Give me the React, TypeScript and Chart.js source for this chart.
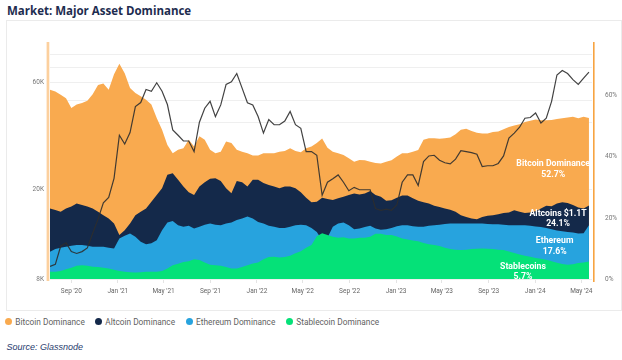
import React, { useEffect, useRef } from 'react';
import { Chart, registerables } from 'chart.js';

Chart.register(...registerables);

// ---------- data ----------
const START_DATE = '2020-07-07';
const END_DATE = '2024-05-29';
const STEP_DAYS = 14;

// BTC price, thousands of USD (left, log axis)
const btcPrice = [
  9.1, 9.3, 11.2, 11.6, 10.6, 10.4, 10.6, 11.0, 12.8, 14.8,
  17.5, 18.5, 22.5, 35.0, 32.0, 36.0, 47.0, 49.0, 56.0, 55.0,
  60.0, 55.0, 48.0, 37.0, 35.0, 33.0, 33.0, 29.6, 40.0, 46.2,
  49.6, 42.4, 47.8, 59.0, 60.6, 66.0, 56.8, 48.9, 47.8, 42.4,
  35.8, 41.1, 39.0, 39.0, 40.5, 44.7, 39.0, 37.6, 29.6, 29.6,
  28.5, 18.9, 21.6, 22.4, 23.3, 21.6, 19.8, 20.5, 20.0, 20.0,
  20.0, 16.5, 16.2, 16.4, 16.2, 17.1, 21.6, 23.3, 23.3, 20.9,
  26.7, 28.3, 28.5, 27.1, 26.4, 26.1, 27.4, 29.9, 29.6, 29.3,
  28.8, 25.4, 25.6, 25.6, 26.2, 28.3, 34.0, 35.8, 38.0, 41.7,
  42.0, 44.0, 39.7, 41.7, 49.6, 65.0, 68.0, 66.0, 62.0, 59.0,
  63.0, 67.0,
];

const bitcoinDominance = [
  62.0, 61.4, 60.3, 59.2, 56.0, 57.1, 57.6, 58.4, 60.5, 63.5,
  64.0, 62.0, 67.0, 70.5, 67.4, 62.5, 60.9, 59.8, 58.7, 57.1,
  52.7, 48.9, 43.9, 41.2, 42.3, 42.8, 45.6, 43.4, 46.7, 45.6,
  42.3, 41.2, 41.7, 45.0, 44.5, 42.3, 41.7, 41.2, 40.4, 40.4,
  41.2, 41.2, 41.2, 41.7, 41.9, 42.8, 41.9, 41.5, 42.8, 43.4,
  44.5, 46.0, 43.0, 41.7, 41.2, 40.6, 39.5, 38.4, 39.0, 38.9,
  38.4, 38.0, 37.8, 38.4, 38.9, 40.1, 41.2, 41.2, 41.7, 42.2,
  45.6, 46.1, 46.1, 45.9, 46.1, 46.3, 47.4, 48.9, 49.2, 48.5,
  47.9, 47.6, 47.6, 48.1, 48.3, 49.0, 49.8, 50.3, 50.7, 51.4,
  51.8, 52.2, 52.0, 52.0, 52.1, 52.4, 52.6, 52.9, 53.1, 52.6,
  53.1, 52.7,
];

const altcoinDominance = [
  23.1, 22.6, 22.0, 23.1, 23.7, 24.7, 24.2, 23.7, 23.1, 22.0,
  20.9, 19.8, 18.2, 14.4, 16.0, 18.2, 20.9, 22.0, 23.1, 25.3,
  27.5, 29.7, 34.1, 34.6, 32.5, 30.3, 28.4, 27.5, 30.3, 31.7,
  32.8, 33.0, 32.1, 29.7, 28.1, 32.1, 31.7, 30.3, 32.5, 32.5,
  31.4, 30.8, 30.3, 29.7, 30.3, 30.3, 29.7, 28.4, 26.6, 25.1,
  25.3, 26.6, 26.2, 25.9, 26.4, 26.9, 27.5, 28.0, 27.7, 28.0,
  28.8, 27.5, 26.9, 25.6, 25.8, 26.6, 27.3, 27.3, 26.4, 25.6,
  25.1, 24.7, 24.0, 23.6, 23.1, 22.7, 22.0, 20.9, 20.3, 19.8,
  19.6, 20.3, 20.7, 20.9, 21.2, 21.6, 21.8, 22.5, 22.0, 21.6,
  21.8, 22.2, 23.1, 24.0, 23.8, 24.7, 25.1, 24.9, 24.2, 23.4,
  23.1, 24.1,
];

const ethereumDominance = [
  8.9, 9.8, 10.2, 10.6, 10.9, 11.1, 11.1, 10.9, 10.6, 10.6,
  10.6, 10.2, 10.0, 13.3, 14.2, 14.9, 13.8, 12.2, 11.4, 11.7,
  12.7, 16.0, 18.5, 19.0, 17.6, 17.1, 17.4, 16.5, 17.1, 17.8,
  18.2, 17.8, 17.6, 18.2, 18.5, 19.3, 19.8, 20.5, 19.8, 18.7,
  18.2, 17.4, 17.1, 16.7, 16.7, 17.1, 17.6, 17.8, 17.6, 16.7,
  15.4, 12.7, 13.5, 17.1, 18.2, 18.5, 17.6, 16.3, 16.5, 17.0,
  17.4, 16.5, 16.1, 16.3, 16.7, 17.3, 17.6, 17.6, 17.3, 17.1,
  17.1, 17.4, 17.6, 17.8, 18.0, 18.2, 18.2, 18.2, 18.2, 18.2,
  18.2, 18.2, 18.0, 17.9, 17.9, 17.8, 17.6, 17.6, 17.6, 17.6,
  17.4, 17.2, 17.0, 16.7, 16.3, 15.9, 15.6, 15.4, 15.2, 14.9,
  15.0, 17.6,
];

const stablecoinDominance = [
  2.4, 2.4, 2.6, 3.2, 3.7, 4.3, 4.5, 4.3, 4.0, 3.9,
  3.7, 3.4, 3.0, 2.6, 2.4, 2.2, 2.1, 2.2, 2.4, 2.4,
  2.4, 2.6, 3.4, 4.5, 5.0, 5.6, 5.8, 6.5, 6.2, 5.4,
  4.7, 4.5, 4.3, 3.9, 3.4, 3.4, 3.9, 4.5, 5.1, 5.4,
  6.5, 7.2, 7.3, 7.0, 7.2, 7.6, 8.4, 9.1, 10.2, 11.1,
  14.0, 15.0, 14.4, 13.8, 13.5, 13.7, 13.3, 13.3, 13.5, 13.5,
  13.8, 14.8, 14.8, 14.4, 14.4, 13.9, 13.3, 12.9, 12.6, 12.4,
  11.8, 11.4, 11.1, 10.8, 10.2, 9.8, 9.6, 9.5, 9.6, 9.8,
  9.9, 10.0, 9.9, 9.8, 9.6, 9.5, 9.0, 8.5, 8.0, 7.6,
  7.3, 6.9, 6.6, 6.3, 5.8, 5.3, 4.9, 4.7, 4.8, 5.2,
  5.4, 5.7,
];

const xTickDates = [
  '2020-09-01', '2021-01-01', '2021-05-01', '2021-09-01', '2022-01-01', '2022-05-01',
  '2022-09-01', '2023-01-01', '2023-05-01', '2023-09-01', '2024-01-01', '2024-05-01',
];
const xTickLabels = [
  "Sep '20", "Jan '21", "May '21", "Sep '21", "Jan '22", "May '22",
  "Sep '22", "Jan '23", "May '23", "Sep '23", "Jan '24", "May '24",
];
const priceTickValues = [8, 20, 60];
const priceTickLabels = ['8K', '20K', '60K'];
const priceGridValues = [40, 50, 70, 80];
const dominanceTickValues = [0, 20, 40, 60];
const PRICE_MIN = 8;
const PRICE_MAX = 91.2;
const DOM_MIN = 0;
const DOM_MAX = 77.6;

const seriesNames = ['Bitcoin Dominance', 'Altcoin Dominance', 'Ethereum Dominance', 'Stablecoin Dominance'];
const annotationTitles = ['Bitcoin Dominance', 'Altcoins $1.1T', 'Ethereum', 'Stablecoins'];

// ---------- styles / layout ----------
const ORANGE = '#f9aa4f';
const NAVY = '#14294a';
const BLUE = '#27a3de';
const GREEN = '#05e178';
const seriesColors = [ORANGE, NAVY, BLUE, GREEN];
// annotation block centres in data units (day, dominance %)
const annotationAnchors = [
  { day: 1320, pct: 35.9 },
  { day: 1333, pct: 19.8 },
  { day: 1324, pct: 10.7 },
  { day: 1241, pct: 2.4 },
];
const legendX = [4.8, 94.8, 185.5, 285.8];

const dayOf = (d: string) => Math.round((Date.parse(d) - Date.parse(START_DATE)) / 86400000);
const END_DAY = dayOf(END_DATE);
const xTickDays = xTickDates.map(dayOf);
const toPoints = (arr: number[]) => arr.map((v, i) => ({ x: i * STEP_DAYS, y: v }));
const lastOf = (arr: number[]) => arr[arr.length - 1];

const overlayPlugin = {
  id: 'overlay',
  afterDatasetsDraw(chart: any) {
    const { ctx, chartArea } = chart;
    const { left, right, top, bottom } = chartArea;
    ctx.save();
    ctx.fillStyle = 'rgba(249,170,79,0.55)';
    ctx.fillRect(left - 3.4, top, 2.7, bottom - top + 2);
    ctx.fillStyle = '#f7a442';
    ctx.fillRect(right + 1, top, 1.6, bottom - top + 3);

    const xs = chart.scales.x;
    const ys = chart.scales.y1;
    const values = [bitcoinDominance, altcoinDominance, ethereumDominance, stablecoinDominance].map(
      (a) => lastOf(a).toFixed(1) + '%'
    );
    ctx.fillStyle = '#ffffff';
    ctx.font = 'bold 8.7px Roboto';
    ctx.textAlign = 'center';
    ctx.textBaseline = 'middle';
    annotationAnchors.forEach((a, i) => {
      const x = xs.getPixelForValue(a.day);
      const y = ys.getPixelForValue(a.pct);
      ctx.fillText(annotationTitles[i], x, y - 5.2);
      ctx.fillText(values[i], x, y + 5.2);
    });
    ctx.restore();
  },
};

export default function App() {
  const canvasRef = useRef<HTMLCanvasElement | null>(null);

  useEffect(() => {
    if (!canvasRef.current) return;
    const areaDs = (label: string, data: number[], color: string) => ({
      label,
      data: toPoints(data),
      yAxisID: 'y1',
      backgroundColor: color,
      borderColor: color,
      borderWidth: 0,
      pointRadius: 0,
      fill: 'origin',
      tension: 0,
    });
    const chart = new Chart(canvasRef.current, {
      type: 'line',
      data: {
        datasets: [
          {
            label: 'BTC Price',
            data: toPoints(btcPrice),
            yAxisID: 'y',
            borderColor: 'rgba(45,45,45,0.9)',
            borderWidth: 1.2,
            pointRadius: 0,
            fill: false,
            tension: 0,
          } as any,
          areaDs(seriesNames[3], stablecoinDominance, GREEN),
          areaDs(seriesNames[2], ethereumDominance, BLUE),
          areaDs(seriesNames[1], altcoinDominance, NAVY),
          areaDs(seriesNames[0], bitcoinDominance, ORANGE),
        ],
      },
      options: {
        animation: false,
        responsive: false,
        maintainAspectRatio: false,
        layout: { padding: { top: 21, left: 0, right: 0, bottom: 0 } },
        plugins: { legend: { display: false }, tooltip: { enabled: false } },
        scales: {
          x: {
            type: 'linear',
            min: 0,
            max: END_DAY,
            afterBuildTicks: (s: any) => {
              s.ticks = xTickDays.map((v) => ({ value: v }));
            },
            afterFit: (s: any) => {
              s.height = 30;
            },
            ticks: {
              autoSkip: false,
              maxRotation: 0,
              padding: 4,
              color: '#666',
              font: { size: 6.5, family: 'Roboto' },
              callback: (v: any) => {
                const k = xTickDays.indexOf(Number(v));
                return k >= 0 ? xTickLabels[k] : '';
              },
            },
            grid: { drawOnChartArea: false, drawTicks: true, tickLength: 4, color: '#e4e4e4' },
            border: { display: false },
          },
          y: {
            type: 'logarithmic',
            position: 'left',
            min: PRICE_MIN,
            max: PRICE_MAX,
            afterBuildTicks: (s: any) => {
              s.ticks = [...priceTickValues, ...priceGridValues].sort((a, b) => a - b).map((v) => ({ value: v }));
            },
            afterFit: (s: any) => {
              s.width = 43;
            },
            ticks: {
              autoSkip: false,
              padding: 6,
              color: '#777',
              font: { size: 6.5, family: 'Roboto' },
              callback: (v: any) => {
                const k = priceTickValues.indexOf(Number(v));
                return k >= 0 ? priceTickLabels[k] : '';
              },
            },
            grid: { color: '#efefef', drawTicks: false },
            border: { display: false },
          },
          y1: {
            type: 'linear',
            position: 'right',
            min: DOM_MIN,
            max: DOM_MAX,
            afterBuildTicks: (s: any) => {
              s.ticks = dominanceTickValues.map((v) => ({ value: v }));
            },
            afterFit: (s: any) => {
              s.width = 28;
            },
            ticks: {
              autoSkip: false,
              padding: 5,
              color: '#777',
              font: { size: 6.5, family: 'Roboto' },
              callback: (v: any) => v + '%',
            },
            grid: { display: false },
            border: { display: false },
          },
        },
      } as any,
      plugins: [overlayPlugin],
    });
    return () => chart.destroy();
  }, []);

  return (
    <div style={{ position: 'absolute', left: 0, top: 0, width: 622, height: 360, background: '#fff', overflow: 'hidden' }}>
      <div
        style={{
          position: 'absolute', left: 7, top: 3, lineHeight: '14px',
          font: 'bold 11.5px "Open Sans", sans-serif', color: '#1d2c4f', whiteSpace: 'nowrap',
        }}
      >
        Market: Major Asset Dominance
      </div>
      <div
        style={{
          position: 'absolute', left: 6, top: 20, width: 614, height: 289,
          border: '1px solid #ebebeb', boxSizing: 'content-box',
        }}
      >
        <canvas ref={canvasRef} width={613} height={288} style={{ display: 'block', width: 613, height: 288 }} />
      </div>
      {seriesNames.map((name, i) => (
        <div
          key={name}
          style={{
            position: 'absolute', left: legendX[i], top: 316.5, height: 10, display: 'flex',
            alignItems: 'center', whiteSpace: 'nowrap',
          }}
        >
          <span
            style={{
              display: 'inline-block', width: 7, height: 7, borderRadius: '50%',
              background: seriesColors[i], marginRight: 3.5,
            }}
          />
          <span style={{ font: '8.3px Roboto, sans-serif', color: '#5f5f5f', lineHeight: '10px' }}>{name}</span>
        </div>
      ))}
      <div
        style={{
          position: 'absolute', left: 6.5, top: 341.5, lineHeight: '11px',
          font: 'italic 9px "Liberation Sans Narrow", "Liberation Sans", sans-serif', color: '#1f3b6e',
          whiteSpace: 'nowrap',
        }}
      >
        Source: Glassnode
      </div>
    </div>
  );
}
